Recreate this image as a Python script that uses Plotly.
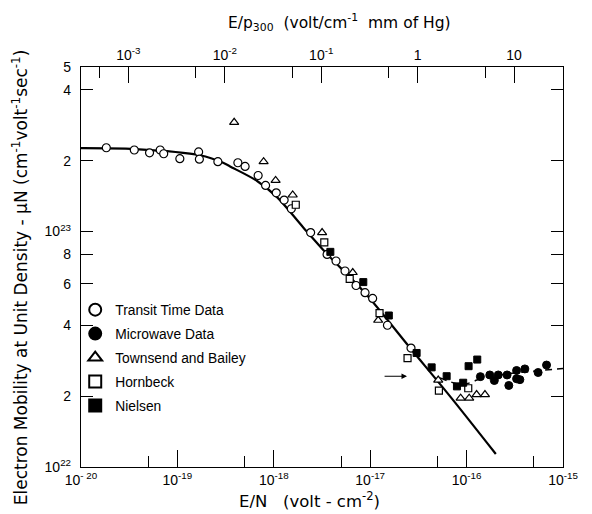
import math
import plotly.graph_objects as go

FONT = "Liberation Sans"
TFONT = "DejaVu Sans"

# ---- data ----
transit_x = [1.83e-20, 3.57e-20, 5.14e-20, 6.63e-20, 7.21e-20, 1.06e-19, 1.66e-19, 1.69e-19,
             2.63e-19, 4.24e-19, 5.04e-19, 6.88e-19, 8.22e-19, 1.06e-18, 1.28e-18, 1.52e-18,
             2.41e-18, 3.57e-18, 4.42e-18, 5.48e-18, 7.13e-18, 8.84e-18, 1.06e-17, 1.51e-17, 2.65e-17]
transit_y = [2.27e23, 2.22e23, 2.16e23, 2.22e23, 2.14e23, 2.04e23, 2.18e23, 2.03e23,
             1.98e23, 1.96e23, 1.89e23, 1.73e23, 1.57e23, 1.46e23, 1.36e23, 1.25e23,
             9.9e22, 8.0e22, 7.5e22, 6.8e22, 5.9e22, 5.5e22, 5.2e22, 4.0e22, 3.2e22]

microwave_x = [1.39e-16, 1.74e-16, 1.94e-16, 2.13e-16, 2.63e-16, 2.74e-16, 3.30e-16, 3.30e-16,
               3.57e-16, 4.02e-16, 5.52e-16, 6.75e-16, 1.0e-15]
microwave_y = [2.42e22, 2.46e22, 2.33e22, 2.46e22, 2.46e22, 2.22e22, 2.57e22, 2.37e22,
               2.35e22, 2.61e22, 2.52e22, 2.71e22, 2.62e22]

townsend_x = [3.88e-19, 7.84e-19, 1.044e-18, 1.57e-18, 3.17e-18, 6.59e-18, 1.21e-17, 5.08e-17,
              8.67e-17, 1.064e-16, 1.27e-16, 1.55e-16]
townsend_y = [2.91e23, 1.98e23, 1.65e23, 1.43e23, 9.9e22, 6.7e22, 4.2e22, 2.34e22,
              1.96e22, 1.96e22, 2.03e22, 2.03e22]

hornbeck_x = [1.69e-18, 3.34e-18, 6.13e-18, 1.25e-17, 2.44e-17, 5.16e-17, 1.04e-16]
hornbeck_y = [1.30e23, 9.0e22, 6.3e22, 4.5e22, 2.9e22, 2.11e22, 2.16e22]

nielsen_x = [3.86e-18, 8.48e-18, 1.56e-17, 3.03e-17, 4.34e-17, 6.21e-17, 7.94e-17, 9.22e-17,
             1.049e-16, 1.29e-16]
nielsen_y = [8.2e22, 6.1e22, 4.4e22, 3.05e22, 2.65e22, 2.43e22, 2.20e22, 2.28e22,
             2.68e22, 2.86e22]

curve_x = [1e-20, 3.65e-20, 1.72e-19, 2.98e-19, 3.52e-19, 6.71e-19, 1.08e-18, 2.01e-18,
           3.57e-18, 8.84e-18, 2.65e-17, 6.71e-17, 2.01e-16]
curve_y = [2.26e23, 2.24e23, 2.11e23, 1.96e23, 1.89e23, 1.64e23, 1.40e23, 1.044e23,
           8.02e22, 5.48e22, 3.17e22, 2.00e22, 1.135e22]

dash_x = [5.29e-17, 7.88e-17, 1.007e-16, 1.28e-16, 1.62e-16, 3.57e-16, 1.0e-15]
dash_y = [2.39e22, 2.26e22, 2.26e22, 2.34e22, 2.42e22, 2.52e22, 2.62e22]

arrow_tail_x, arrow_head_x, arrow_y = 1.36e-17, 2.41e-17, 2.43e22

# axis ticks
x_range = [1e-20, 1e-15]
x_major = [1e-20, 1e-19, 1e-18, 1e-17, 1e-16, 1e-15]
x_major_text = ["10<sup>- 20</sup>", "10<sup>-19</sup>", "10<sup>-18</sup>", "10<sup>-17</sup>",
                "10<sup>-16</sup>", "10<sup>-15</sup>"]
x_minor = [5e-20, 5e-19, 5e-18, 5e-17, 5e-16]

N300 = 3.22e16  # molecules / cm^3 at 1 mm Hg, 300 K
top_major = [1e-3, 1e-2, 1e-1, 1, 10]
top_major_text = ["10<sup>-3</sup>", "10<sup>-2</sup>", "10<sup>-1</sup>", "1", "10"]
top_minor = [5e-4, 5e-3, 5e-2, 0.5, 5]

y_range = [1e22, 5e23]
y_ticks = [1e22, 2e22, 4e22, 6e22, 8e22, 1e23, 2e23, 4e23, 5e23]
y_ticktext = ["10<sup>22</sup>", "2", "4", "6", "8", "10<sup>23</sup>", "2", "4", "5"]

fig = go.Figure()

fig.add_trace(go.Scatter(x=curve_x, y=curve_y, mode="lines", showlegend=False,
                         line=dict(color="black", width=2.2, shape="spline", smoothing=0.9)))
fig.add_trace(go.Scatter(x=dash_x, y=dash_y, mode="lines", showlegend=False,
                         line=dict(color="black", width=1.5, dash="7px,5px", shape="spline", smoothing=0.8)))

mk_open = dict(color="white", line=dict(color="black", width=1.2))
fig.add_trace(go.Scatter(x=transit_x, y=transit_y, mode="markers", name="Transit Time Data",
                         legendgroup="a", cliponaxis=False,
                         marker=dict(symbol="circle", size=8, **mk_open)))
fig.add_trace(go.Scatter(x=microwave_x, y=microwave_y, mode="markers", name="Microwave Data",
                         legendgroup="b", cliponaxis=False,
                         marker=dict(symbol="circle", size=8, color="black",
                                     line=dict(color="black", width=1))))
fig.add_trace(go.Scatter(x=townsend_x, y=townsend_y, mode="markers", name="Townsend and Bailey",
                         legendgroup="c", cliponaxis=False,
                         marker=dict(symbol="triangle-up", size=8, **mk_open)))
fig.add_trace(go.Scatter(x=hornbeck_x, y=hornbeck_y, mode="markers", name="Hornbeck",
                         legendgroup="d", cliponaxis=False,
                         marker=dict(symbol="square", size=7, **mk_open)))
fig.add_trace(go.Scatter(x=nielsen_x, y=nielsen_y, mode="markers", name="Nielsen",
                         legendgroup="e", cliponaxis=False,
                         marker=dict(symbol="square", size=7, color="black",
                                     line=dict(color="black", width=1))))
# helper trace so the top axis is drawn
fig.add_trace(go.Scatter(x=[], y=[], xaxis="x2", yaxis="y", showlegend=False, hoverinfo="skip"))

lx = [math.log10(v) for v in x_range]
shift = math.log10(N300)

axis_font = dict(family=FONT, size=14, color="black")
fig.update_layout(
    width=584, height=506,
    margin=dict(l=73, r=29, t=59, b=47),
    paper_bgcolor="white", plot_bgcolor="white",
    font=dict(family=FONT, color="black"),
    xaxis=dict(type="log", range=lx, showgrid=False, zeroline=False,
               showline=True, linecolor="black", linewidth=1.3, mirror=False,
               ticks="inside", ticklen=17, tickwidth=1.2, tickcolor="black",
               tickmode="array", tickvals=x_major, ticktext=x_major_text,
               tickfont=axis_font,
               minor=dict(tickvals=x_minor, ticks="inside", ticklen=11, tickwidth=1.2,
                          tickcolor="black", showgrid=False)),
    xaxis2=dict(type="log", range=[lx[0] + shift, lx[1] + shift], overlaying="x", side="top",
                anchor="y", showgrid=False, zeroline=False,
                showline=True, linecolor="black", linewidth=1.3,
                ticks="inside", ticklen=16, tickwidth=1.2, tickcolor="black",
                tickmode="array", tickvals=top_major, ticktext=top_major_text,
                tickfont=axis_font,
                minor=dict(tickvals=top_minor, ticks="inside", ticklen=11, tickwidth=1.2,
                           tickcolor="black", showgrid=False)),
    yaxis=dict(type="log", range=[math.log10(v) for v in y_range], showgrid=False, zeroline=False,
               showline=True, linecolor="black", linewidth=1.3, mirror="ticks",
               ticks="inside", ticklen=12, tickwidth=1.2, tickcolor="black",
               tickmode="array", tickvals=y_ticks, ticktext=y_ticktext,
               tickfont=axis_font, ticklabelstandoff=6),
    legend=dict(x=-0.012, xanchor="left", y=0.432, yanchor="top", bgcolor="rgba(0,0,0,0)",
                font=dict(family=FONT, size=13.8, color="black"), tracegroupgap=3,
                itemsizing="constant"),
    showlegend=True,
)

fig.add_annotation(x=math.log10(arrow_head_x), y=math.log10(arrow_y), xref="x", yref="y",
                   ax=math.log10(arrow_tail_x), ay=math.log10(arrow_y), axref="x", ayref="y",
                   text="", showarrow=True, arrowhead=2, arrowsize=1, arrowwidth=1.1,
                   arrowcolor="black")

fig.add_annotation(text="E/N   (volt - cm<sup>-2</sup>)", xref="paper", yref="paper",
                   x=0.475, y=-0.0825, showarrow=False, xanchor="center", yanchor="middle",
                   font=dict(family=TFONT, size=16.5, color="black"))
fig.add_annotation(text="E/p<sub>300</sub>  (volt/cm<sup>-1</sup>  mm of Hg)", xref="paper", yref="paper",
                   x=0.537, y=1.112, showarrow=False, xanchor="center", yanchor="middle",
                   font=dict(family=TFONT, size=15.5, color="black"))
fig.add_annotation(text="Electron Mobility at Unit Density - μN (cm<sup>-1</sup>volt<sup>-1</sup>sec<sup>-1</sup>)",
                   xref="paper", yref="paper", x=-0.126, y=0.475, textangle=-90,
                   showarrow=False, xanchor="center", yanchor="middle",
                   font=dict(family=TFONT, size=17, color="black"))

fig.write_html("out.html")
